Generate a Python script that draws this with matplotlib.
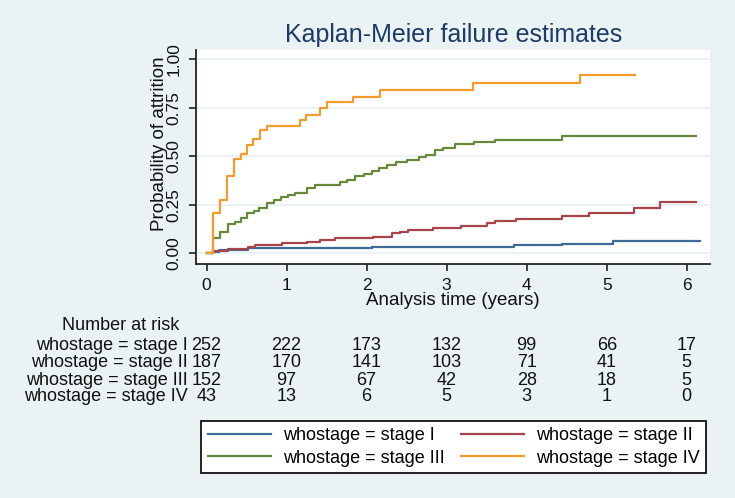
import matplotlib.pyplot as plt
import matplotlib.transforms as mtransforms

plt.rcParams['font.family'] = ['Liberation Sans', 'DejaVu Sans']

# Kaplan-Meier failure steps (time in years, cumulative failure)
t_stage1 = [0, 0.08, 0.15, 0.52, 2.07, 3.84, 4.44, 5.08, 6.17]
f_stage1 = [0, 0.008, 0.016, 0.026, 0.033, 0.041, 0.05, 0.064, 0.064]

t_stage2 = [0, 0.08, 0.27, 0.52, 0.6, 0.94, 1.25, 1.42, 1.6, 2.08, 2.32, 2.42,
            2.52, 2.83, 3.18, 3.5, 3.6, 3.86, 4.44, 4.78, 5.34, 5.67, 6.11]
f_stage2 = [0, 0.014, 0.022, 0.031, 0.043, 0.052, 0.06, 0.069, 0.076, 0.086, 0.103, 0.112,
            0.121, 0.129, 0.138, 0.155, 0.167, 0.176, 0.19, 0.21, 0.233, 0.264, 0.264]

t_stage3 = [0, 0.08, 0.17, 0.265, 0.36, 0.43, 0.51, 0.59, 0.66, 0.75, 0.845, 0.93, 1.02,
            1.11, 1.26, 1.35, 1.67, 1.76, 1.85, 1.97, 2.07, 2.16, 2.25, 2.37, 2.51, 2.65,
            2.74, 2.85, 2.95, 3.1, 3.34, 3.6, 4.44, 6.11]
f_stage3 = [0, 0.081, 0.107, 0.15, 0.16, 0.18, 0.207, 0.219, 0.233, 0.259, 0.276, 0.29, 0.298,
            0.31, 0.336, 0.353, 0.366, 0.379, 0.397, 0.409, 0.422, 0.44, 0.457, 0.469, 0.483, 0.497,
            0.507, 0.534, 0.543, 0.564, 0.572, 0.586, 0.603, 0.603]

t_stage4 = [0, 0.075, 0.167, 0.258, 0.346, 0.425, 0.508, 0.583, 0.667, 0.758, 1.167, 1.242,
            1.417, 1.5, 1.833, 2.167, 3.335, 4.668, 5.35]
f_stage4 = [0, 0.206, 0.275, 0.399, 0.488, 0.512, 0.558, 0.588, 0.636, 0.656, 0.687, 0.715,
            0.751, 0.782, 0.808, 0.842, 0.879, 0.919, 0.919]

labels = ['whostage = stage I', 'whostage = stage II', 'whostage = stage III', 'whostage = stage IV']
colors = ['#3d6a97', '#a8434b', '#66893c', '#f29b2e']

# number at risk table
risk_times = [0, 1, 2, 3, 4, 5, 6]
risk_stage1 = [252, 222, 173, 132, 99, 66, 17]
risk_stage2 = [187, 170, 141, 103, 71, 41, 5]
risk_stage3 = [152, 97, 67, 42, 28, 18, 5]
risk_stage4 = [43, 13, 6, 5, 3, 1, 0]

bg = '#eaf2f3'
fig = plt.figure(figsize=(7.35, 4.98), dpi=100, facecolor=bg)
ax = fig.add_axes([0.2663, 0.4693, 0.6997, 0.4303])
ax.set_facecolor('white')

lines = []
for t, f, c, lab in zip([t_stage1, t_stage2, t_stage3, t_stage4],
                        [f_stage1, f_stage2, f_stage3, f_stage4], colors, labels):
    ln, = ax.step(t, f, where='post', color=c, lw=1.6, label=lab)
    lines.append(ln)

ax.set_xlim(-0.135, 6.29)
ax.set_ylim(-0.057, 1.048)
ax.set_xticks(range(7))
ax.set_yticks([0, 0.25, 0.5, 0.75, 1.0])
ax.set_yticklabels(['0.00', '0.25', '0.50', '0.75', '1.00'], rotation=90, va='center')
ax.grid(axis='y', color=bg, lw=1.5)
ax.set_axisbelow(True)

for s in ['top', 'right']:
    ax.spines[s].set_visible(False)
for s in ['left', 'bottom']:
    ax.spines[s].set_color('#222222')
    ax.spines[s].set_linewidth(1.3)
ax.tick_params(axis='both', length=5, width=1.2, color='#222222', labelsize=12.5, labelcolor='#111111')
ax.tick_params(axis='x', pad=5)
ax.tick_params(axis='y', pad=5)

ax.set_xlabel('Analysis time (years)', fontsize=13.5, color='#111111')
ax.xaxis.set_label_coords(0.5, -0.128)
ax.set_ylabel('Probability of attrition', fontsize=13.5, color='#111111')
ax.yaxis.set_label_coords(-0.054, 0.561)

fig.text(0.617, 0.93, 'Kaplan-Meier failure estimates', ha='center', va='center',
         fontsize=18, color='#1c3b66')

# risk table under the plot
trans = mtransforms.blended_transform_factory(ax.transData, fig.transFigure)
fig.text(0.1646, 0.3454, 'Number at risk', ha='center', va='center', fontsize=13, color='#111111')
row_y = [0.3072, 0.2717, 0.2369, 0.2034]
for y, lab, counts in zip(row_y, labels, [risk_stage1, risk_stage2, risk_stage3, risk_stage4]):
    fig.text(0.2551, y, lab, ha='right', va='center', fontsize=13, color='#111111')
    for t, n in zip(risk_times, counts):
        ax.text(t, y, str(n), transform=trans, ha='center', va='center', fontsize=13,
                color='#111111', clip_on=False)

order = [0, 2, 1, 3]
leg = fig.legend([lines[i] for i in order], [labels[i] for i in order], ncol=2,
                 loc='center', bbox_to_anchor=(0.617, 0.1024), fontsize=13,
                 handlelength=3.5, handletextpad=0.65, columnspacing=0.9,
                 labelspacing=0.3, borderpad=0.35, fancybox=False, framealpha=1)
leg.get_frame().set_edgecolor('#111111')
leg.get_frame().set_linewidth(1.3)

fig.savefig('out.png', dpi=100, facecolor=bg)
